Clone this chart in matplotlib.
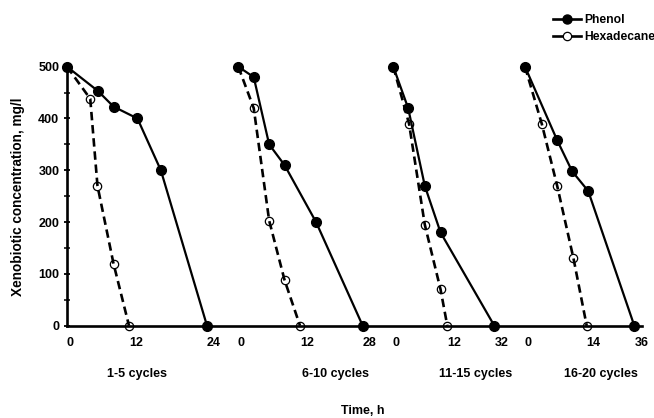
import numpy as np
import matplotlib.pyplot as plt
from matplotlib.lines import Line2D
from matplotlib.ticker import MultipleLocator
from matplotlib.transforms import ScaledTranslation

plt.rcParams['font.family'] = ['Liberation Sans', 'DejaVu Sans']
plt.rcParams['font.weight'] = 'bold'
plt.rcParams['font.size'] = 9

# Data (time in h, concentration in mg/l)
cycles = ['1-5 cycles', '6-10 cycles', '11-15 cycles', '16-20 cycles']
mid_hour = [12, 12, 12, 14]
end_hour = [24, 28, 32, 36]

phenol_t = [[0, 6, 9, 13.3, 16.9, 24],
            [0, 3, 6, 9, 16.1, 28],
            [0, 3.3, 7, 10.5, 32],
            [0, 7.3, 10.7, 14.7, 36]]
phenol_c = [[500, 453, 423, 400, 300, 0],
            [500, 480, 350, 310, 200, 0],
            [500, 420, 270, 180, 0],
            [500, 358, 298, 260, 0]]

hexa_t = [[0, 4.5, 5.9, 9, 12],
          [0, 3, 6, 9, 12],
          [0, 3.5, 7, 10.5, 12],
          [0, 3.8, 7.3, 11, 14]]
hexa_c = [[500, 438, 270, 120, 0],
          [500, 420, 203, 88, 0],
          [500, 390, 195, 70, 0],
          [500, 390, 270, 130, 0]]

# Layout (pixels of a 654x418 canvas)
W, H = 654, 418
y_top, y_bot = 66.7, 325.7
panel_px = [(67, 129, 207), (238.3, 300, 362.7), (393.3, 447.3, 494.3), (525, 586.7, 634.3)]
cycle_label_x = [137, 335, 476, 601]


def make_scale(mid, end, frac):
    # piecewise linear time axis: 0..mid and mid..end get their own widths
    def fwd(t):
        t = np.asarray(t, float)
        return np.where(t <= mid, t * frac / mid, frac + (t - mid) * (1 - frac) / (end - mid))

    def inv(u):
        u = np.asarray(u, float)
        return np.where(u <= frac, u * mid / frac, mid + (u - frac) * (end - mid) / (1 - frac))
    return fwd, inv


fig = plt.figure(figsize=(W / 100, H / 100), dpi=100)
bottom = (H - y_bot) / H
height = (y_bot - y_top) / H

# background axes carrying the y axis and the long baseline
ax = fig.add_axes([67 / W, bottom, (642 - 67) / W, height])
ax.set_xlim(0, 1)
ax.set_ylim(0, 500)
ax.set_xticks([])
for s in ['top', 'right']:
    ax.spines[s].set_visible(False)
ax.spines['left'].set_linewidth(1.9)
ax.spines['bottom'].set_linewidth(1.9)
ax.yaxis.set_major_locator(MultipleLocator(100))
ax.yaxis.set_minor_locator(MultipleLocator(50))
ax.tick_params(axis='y', which='major', direction='inout', length=5, width=1.3, pad=3)
ax.tick_params(axis='y', which='minor', direction='inout', length=4, width=1.1)

for i in range(4):
    p0, pm, pe = panel_px[i]
    pax = fig.add_axes([p0 / W, bottom, (pe - p0) / W, height])
    pax.patch.set_visible(False)
    for s in pax.spines.values():
        s.set_visible(False)
    fwd, inv = make_scale(mid_hour[i], end_hour[i], (pm - p0) / (pe - p0))
    pax.set_xscale('function', functions=(fwd, inv))
    pax.set_xlim(0, end_hour[i])
    pax.set_ylim(0, 500)
    pax.set_yticks([])

    pax.plot(hexa_t[i], hexa_c[i], color='black', lw=1.9, ls=(0, (3.2, 1.8)),
             marker='o', ms=6, mfc='none', mec='black', mew=0.9, clip_on=False, zorder=3)
    pax.plot(phenol_t[i], phenol_c[i], color='black', lw=1.6, ls='-',
             marker='o', ms=7, clip_on=False, zorder=4)

    pax.set_xticks([0, mid_hour[i], end_hour[i]])
    pax.set_xticklabels(['0', str(mid_hour[i]), str(end_hour[i])])
    pax.tick_params(axis='x', length=0, pad=8)
    for lab, dx in zip(pax.get_xticklabels(), [3, 7, 7]):
        lab.set_transform(lab.get_transform() + ScaledTranslation(dx / 100, 0, fig.dpi_scale_trans))

    fig.text(cycle_label_x[i] / W, (H - 374) / H, cycles[i], ha='center', va='center')

fig.text(18 / W, (H - 197) / H, 'Xenobiotic concentration, mg/l', rotation=90,
         ha='center', va='center', fontsize=9.8)
fig.text(363 / W, (H - 411) / H, 'Time, h', ha='center', va='center')

handles = [Line2D([], [], color='black', lw=1.9, marker='o', ms=6.5),
           Line2D([], [], color='black', lw=1.9, marker='o', ms=6, mfc='white', mew=0.9)]
fig.legend(handles, ['Phenol', 'Hexadecane'], loc='upper left', bbox_to_anchor=(553 / W, 1 - 14 / H),
           frameon=False, handlelength=2.3, handletextpad=0.3, labelspacing=0.4,
           borderaxespad=0, borderpad=0, fontsize=8.7)

fig.savefig('out.png', dpi=100)
